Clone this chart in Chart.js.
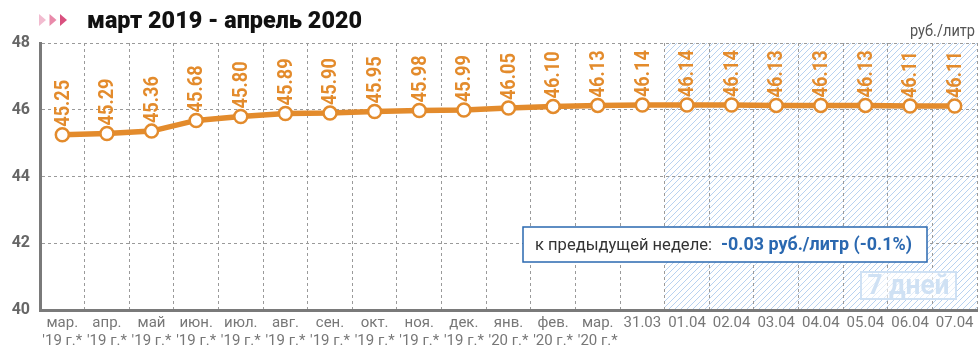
<!DOCTYPE html>
<html lang="ru">
<head>
<meta charset="utf-8">
<title>Цена бензина: март 2019 - апрель 2020</title>
<script src="https://cdn.jsdelivr.net/npm/chart.js@4/dist/chart.umd.min.js"></script>
<style>
  html, body { margin: 0; padding: 0; background: #fff; }
  #wrap { position: relative; width: 978px; height: 348px; }
</style>
</head>
<body>
<div id="wrap"><canvas id="chartPrice"></canvas></div>
<script>
// подписи оси X (две строки: период и год)
const periods = ['мар.', 'апр.', 'май', 'июн.', 'июл.', 'авг.', 'сен.', 'окт.', 'ноя.', 'дек.',
                 'янв.', 'фев.', 'мар.', '31.03', '01.04', '02.04', '03.04', '04.04', '05.04', '06.04', '07.04'];
const years = ["'19 г.*", "'19 г.*", "'19 г.*", "'19 г.*", "'19 г.*", "'19 г.*", "'19 г.*", "'19 г.*", "'19 г.*", "'19 г.*",
               "'20 г.*", "'20 г.*", "'20 г.*", '', '', '', '', '', '', '', ''];
// цена, руб./литр
const prices = [45.25, 45.29, 45.36, 45.68, 45.80, 45.89, 45.90, 45.95, 45.98, 45.99,
                46.05, 46.10, 46.13, 46.14, 46.14, 46.14, 46.13, 46.13, 46.13, 46.11, 46.11];
const yTicks = [40, 42, 44, 46, 48];
const firstDayIndex = 14; // с 01.04 начинается заштрихованная неделя

const titleText = 'март 2019 - апрель 2020';
const unitText = 'руб./литр';
const noteLabel = 'к предыдущей неделе:';
const noteValue = '-0.03 руб./литр (-0.1%)';
const weekText = '7 дней';

const FONT = 'Roboto, "DejaVu Sans Condensed", sans-serif';
const ORANGE = '#e38b2c';
const BLUE = '#2a68b0';
const PALE = '#cfe1f4';

const labels = periods.map((p, i) => [p, years[i]]);

// текст, сжатый по горизонтали до нужной ширины
function fitText(ctx, text, x, y, width) {
    const w = ctx.measureText(text).width;
    const k = Math.min(1, width / w);
    ctx.save();
    ctx.translate(x, y);
    ctx.scale(k, 1);
    ctx.fillText(text, 0, 0);
    ctx.restore();
}

// штриховка последних семи дней
function hatchPattern(ctx) {
    const c = document.createElement('canvas');
    c.width = 6; c.height = 6;
    const g = c.getContext('2d');
    g.strokeStyle = '#b8d2f0';
    g.lineWidth = 1;
    g.beginPath();
    g.moveTo(-1, 7); g.lineTo(7, -1);
    g.moveTo(-4, 4); g.lineTo(4, -4);
    g.moveTo(2, 10); g.lineTo(10, 2);
    g.stroke();
    return ctx.createPattern(c, 'repeat');
}

const decorPlugin = {
    id: 'decor',
    beforeDraw(chart) {
        const { ctx, chartArea: a, scales: { x } } = chart;
        const left = (x.getPixelForValue(firstDayIndex - 1) + x.getPixelForValue(firstDayIndex)) / 2;
        ctx.save();
        ctx.fillStyle = hatchPattern(ctx);
        ctx.fillRect(left, a.top, a.right - left, a.bottom - a.top);
        ctx.restore();
    },
    afterDatasetsDraw(chart) {
        const { ctx } = chart;
        const meta = chart.getDatasetMeta(0);
        ctx.save();
        ctx.fillStyle = ORANGE;
        ctx.font = 'bold 21px ' + FONT;
        ctx.textAlign = 'left';
        ctx.textBaseline = 'middle';
        const k = 47 / ctx.measureText('45.25').width;
        meta.data.forEach((pt, i) => {
            ctx.save();
            ctx.translate(pt.x + 1, pt.y - 8);
            ctx.rotate(-Math.PI / 2);
            ctx.scale(k, 1);
            ctx.fillText(prices[i].toFixed(2), 0, 0);
            ctx.restore();
        });
        ctx.restore();
    },
    afterDraw(chart) {
        const { ctx, chartArea: a } = chart;
        ctx.save();

        // заголовок со стрелками
        const arrows = ['#f2bcd0', '#e98aaa', '#d9507f'];
        arrows.forEach((col, i) => {
            const x0 = 39 + i * 10.5;
            ctx.fillStyle = col;
            ctx.beginPath();
            ctx.moveTo(x0, 14);
            ctx.lineTo(x0 + 7, 20);
            ctx.lineTo(x0, 26);
            ctx.closePath();
            ctx.fill();
        });
        ctx.fillStyle = '#111';
        ctx.font = '900 24px ' + FONT;
        ctx.textAlign = 'left';
        ctx.textBaseline = 'alphabetic';
        fitText(ctx, titleText, 87, 28, 275);

        // единица измерения
        ctx.fillStyle = '#555';
        ctx.font = '16px ' + FONT;
        ctx.textAlign = 'right';
        fitText(ctx, unitText, a.right - 2, 36, 65);

        // плашка "7 дней"
        const wx = a.right - 116, wy = a.bottom - 38;
        ctx.strokeStyle = PALE;
        ctx.lineWidth = 2;
        ctx.fillStyle = 'rgba(255,255,255,0.6)';
        ctx.fillRect(wx, wy, 95, 27);
        ctx.strokeRect(wx, wy, 95, 27);
        ctx.fillStyle = PALE;
        ctx.font = 'bold 27px ' + FONT;
        ctx.textAlign = 'center';
        ctx.textBaseline = 'middle';
        fitText(ctx, weekText, wx + 47.5, wy + 15, 82);

        // изменение к предыдущей неделе
        const bx = 523, by = 227, bw = 404, bh = 35;
        ctx.fillStyle = '#fff';
        ctx.fillRect(bx, by, bw, bh);
        ctx.strokeStyle = BLUE;
        ctx.lineWidth = 1.5;
        ctx.strokeRect(bx, by, bw, bh);
        ctx.textAlign = 'left';
        ctx.fillStyle = '#333';
        ctx.font = '17px ' + FONT;
        fitText(ctx, noteLabel, bx + 12, by + bh / 2 + 1, 177);
        ctx.fillStyle = BLUE;
        ctx.font = 'bold 19px ' + FONT;
        fitText(ctx, noteValue, bx + 198, by + bh / 2 + 1, 191);

        ctx.restore();
    }
};

new Chart(document.getElementById('chartPrice'), {
    type: 'line',
    data: {
        labels: labels,
        datasets: [{
            data: prices,
            borderColor: ORANGE,
            borderWidth: 5.5,
            backgroundColor: '#fff',
            pointBackgroundColor: '#fff',
            pointBorderColor: ORANGE,
            pointBorderWidth: 2.5,
            pointRadius: 6.5,
            tension: 0,
            fill: false
        }]
    },
    options: {
        responsive: true,
        maintainAspectRatio: false,
        devicePixelRatio: 1,
        animation: false,
        layout: { autoPadding: false, padding: { top: 43, right: 1, left: 0, bottom: 0 } },
        plugins: {
            legend: { display: false },
            tooltip: { enabled: false }
        },
        scales: {
            x: {
                offset: true,
                grid: { offset: true, color: '#9a9a9a', lineWidth: 1, drawTicks: false },
                border: { color: '#7a7a7a', width: 3, dash: [3, 3] },
                ticks: {
                    color: '#777',
                    font: { family: FONT, size: 15, lineHeight: 1.15 },
                    padding: 5,
                    maxRotation: 0,
                    autoSkip: false
                },
                afterFit(scale) {
                    scale.height = 38;
                    scale.paddingLeft = 0;
                    scale.paddingRight = 0;
                }
            },
            y: {
                min: 40,
                max: 48,
                afterBuildTicks(scale) { scale.ticks = yTicks.map(v => ({ value: v })); },
                grid: { color: '#9a9a9a', lineWidth: 1, drawTicks: false },
                border: { color: '#7a7a7a', width: 3, dash: [3, 3] },
                ticks: {
                    color: '#666',
                    font: { family: FONT, size: 16, weight: 'bold' },
                    padding: 10
                },
                afterFit(scale) { scale.width = 40; }
            }
        }
    },
    plugins: [decorPlugin]
});
</script>
</body>
</html>
